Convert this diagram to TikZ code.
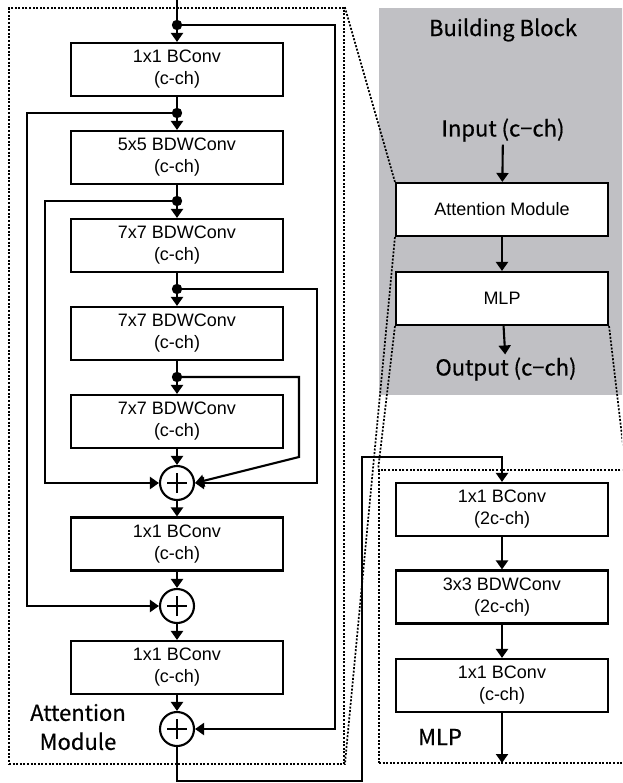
\documentclass[tikz,border=0pt]{standalone}
\usepackage{fontspec}
\setmainfont{Liberation Sans}
\newfontfamily\jpfont[FakeBold=0.6]{Noto Sans CJK JP}
\usetikzlibrary{arrows.meta}

\definecolor{bbgray}{RGB}{192,192,196}

\tikzset{
  box/.style={draw, fill=white, minimum width=212pt, minimum height=53pt,
    inner sep=0pt, align=center, font=\fontsize{18}{22}\selectfont},
  addnode/.style={draw, circle, minimum size=34pt, inner sep=0pt,
    path picture={\draw[line width=1.7pt]
      ([xshift=-10pt]path picture bounding box.center) -- ++(20pt,0)
      ([yshift=-10pt]path picture bounding box.center) -- ++(0,20pt);}},
  frame/.style={draw, dash pattern=on 2pt off 1.6pt, line width=1.7pt, inner sep=0pt},
  zoomline/.style={dash pattern=on 2pt off 1.6pt, line width=1.7pt},
  title/.style={font=\jpfont\fontsize{22}{29}\selectfont, inner sep=2pt, align=center},
  arr/.style={-{Triangle[width=12pt,length=9pt]}}
}

\begin{document}
\begin{tikzpicture}[x=1pt, y=-1pt, line width=2.1pt]

\clip (0,0) rectangle (622,783);

% building block panel
\fill[bbgray] (379,8) rectangle (640,395);
\node[title] (bbtitle) at (503,30) {Building Block};
\node[title] (bbin) at (503,130) {Input (c−ch)};
\node[box] (bbatt) at (502,209.5) {Attention Module};
\node[box] (bbmlp) at (502,298.5) {MLP};
\node[title] (bbout) at (506,369) {Output (c−ch)};
\draw[arr] (bbin) -- (bbatt);
\draw[arr] (bbatt) -- (bbmlp);
\draw[arr] (bbmlp) -- (bbout);

% frames
\node[frame, minimum width=335pt, minimum height=756pt] (amframe) at (176.5,386) {};
\node[frame, minimum width=246pt, minimum height=293pt] (mlpframe) at (502,616.5) {};

% attention module
\coordinate (top) at (177,0);
\node[box] (am1) at (177,69.5) {1x1 BConv\\(c-ch)};
\node[box] (am2) at (177,157.5) {5x5 BDWConv\\(c-ch)};
\node[box] (am3) at (177,245.5) {7x7 BDWConv\\(c-ch)};
\node[box] (am4) at (177,333.5) {7x7 BDWConv\\(c-ch)};
\node[box] (am5) at (177,421.5) {7x7 BDWConv\\(c-ch)};
\node[addnode] (add1) at (177,483) {};
\node[box] (am6) at (177,544) {1x1 BConv\\(c-ch)};
\node[addnode] (add2) at (177,606) {};
\node[box] (am7) at (177,667.5) {1x1 BConv\\(c-ch)};
\node[addnode] (add3) at (177,729) {};
\node[title] (amlabel) at (78,727) {Attention\\Module};

\draw[arr] (top) -- (am1);
\draw[arr] (am1) -- (am2);
\draw[arr] (am2) -- (am3);
\draw[arr] (am3) -- (am4);
\draw[arr] (am4) -- (am5);
\draw[arr] (am5) -- (add1);
\draw[arr] (add1) -- (am6);
\draw[arr] (am6) -- (add2);
\draw[arr] (add2) -- (am7);
\draw[arr] (am7) -- (add3);

% skip connections
\coordinate (d1) at (177,25);
\coordinate (d2) at (177,113);
\coordinate (d3) at (177,201);
\coordinate (d4) at (177,289);
\coordinate (d5) at (177,377);
\coordinate (k1) at (335,25);
\coordinate (k2) at (27,113);
\coordinate (k3) at (45,201);
\coordinate (k4) at (317,289);
\coordinate (k5) at (299,377);
\coordinate (k5b) at (299,457);

\draw[arr] (d1) -- (k1) |- (add3);
\draw[arr] (d2) -- (k2) |- (add2);
\draw[arr] (d3) -- (k3) |- (add1);
\draw[arr] (d4) -- (k4) |- (add1);
\draw[arr] (d5) -- (k5) -- (k5b) -- (add1.east);
\foreach \d in {d1,d2,d3,d4,d5}
  \fill (\d) circle (5.2pt);

% mlp
\node[box] (mlp1) at (502,509.5) {1x1 BConv\\(2c-ch)};
\node[box] (mlp2) at (502,597) {3x3 BDWConv\\(2c-ch)};
\node[box] (mlp3) at (502,685.5) {1x1 BConv\\(c-ch)};
\node[title] (mlplabel) at (440,737) {MLP};
\coordinate (mlpout) at (502,763);
\coordinate (o1) at (177,781);
\coordinate (o2) at (362,457);

\draw[arr] (add3) -- (o1) -| (o2) -| (mlp1);
\draw[arr] (mlp1) -- (mlp2);
\draw[arr] (mlp2) -- (mlp3);
\draw[arr] (mlp3) -- (mlpout);

% zoom lines
\draw[zoomline] (amframe.north east) -- (bbatt.north west);
\draw[zoomline] (bbatt.south west) -- (amframe.south east);
\draw[zoomline] (bbmlp.south west) -- (mlpframe.north west);
\draw[zoomline] (bbmlp.south east) -- (mlpframe.north east);

\end{tikzpicture}
\end{document}
